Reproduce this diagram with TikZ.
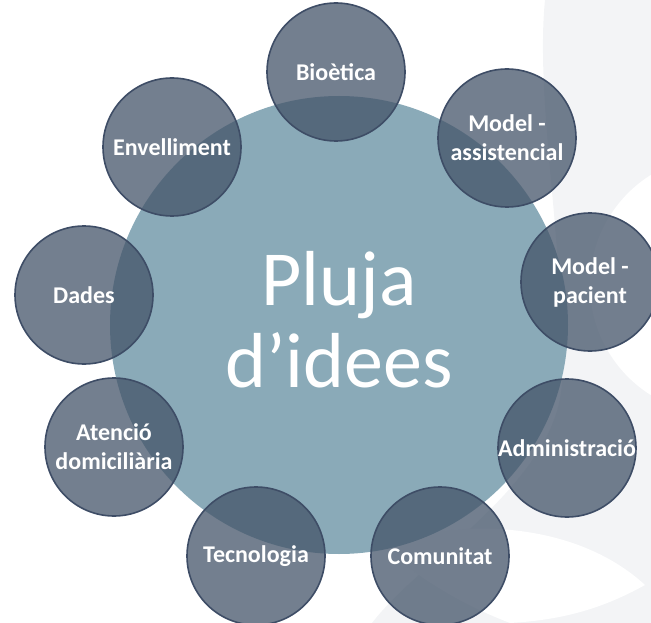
\documentclass[tikz,border=0pt]{standalone}
\usepackage{fontspec}
\setmainfont{Carlito}
\definecolor{bigfill}{HTML}{8AAAB8}
\definecolor{topicfill}{HTML}{445469}
\definecolor{topicline}{HTML}{3E4D66}
\definecolor{bgshade}{HTML}{F3F4F6}
\begin{document}
\begin{tikzpicture}[x=1pt, y=-1pt,
    topic/.style={circle, minimum size=138pt, inner sep=-10pt, fill=topicfill, fill opacity=.75,
        draw=topicline, draw opacity=1, line width=1.6pt, text=white, text opacity=1,
        align=center, font=\bfseries\fontsize{24}{29}\selectfont}]
    \useasboundingbox (0,0) rectangle (651,623);

    % faint background of the slide
    \fill[bgshade] (545,0)--(651,0)--(651,623)--(372,623) .. controls (420,560) and (560,480) .. (562,380) .. controls (565,250) and (535,100) .. (545,0);
    \fill[white] (720,285) circle (130pt);
    \fill[white] (380,545) .. controls (470,515) and (580,525) .. (645,585) .. controls (600,610) and (560,620) .. (510,623) .. controls (450,600) and (410,570) .. (380,545);

    \node[circle, fill=bigfill, minimum size=458pt, inner sep=0pt] (pluja) at (339,325) {};
    \node[text=white, align=center, font=\fontsize{78}{82}\selectfont] (title) at (339,320) {Pluja\\d’idees};

    \node[topic] (bioetica) at (336,72) {Bioètica};
    \node[topic] (assist) at (507,138) {Model -\\assistencial};
    \node[topic] (pacient) at (590,282) {Model -\\pacient};
    \node[topic] (admin) at (567,448) {Administració};
    \node[topic] (comunitat) at (440,556) {Comunitat};
    \node[topic] (tecno) at (256,556) {Tecnologia};
    \node[topic] (atencio) at (114,447) {Atenció\\domiciliària};
    \node[topic] (dades) at (84,295) {Dades};
    \node[topic] (envell) at (172,147) {Envelliment};
\end{tikzpicture}
\end{document}
